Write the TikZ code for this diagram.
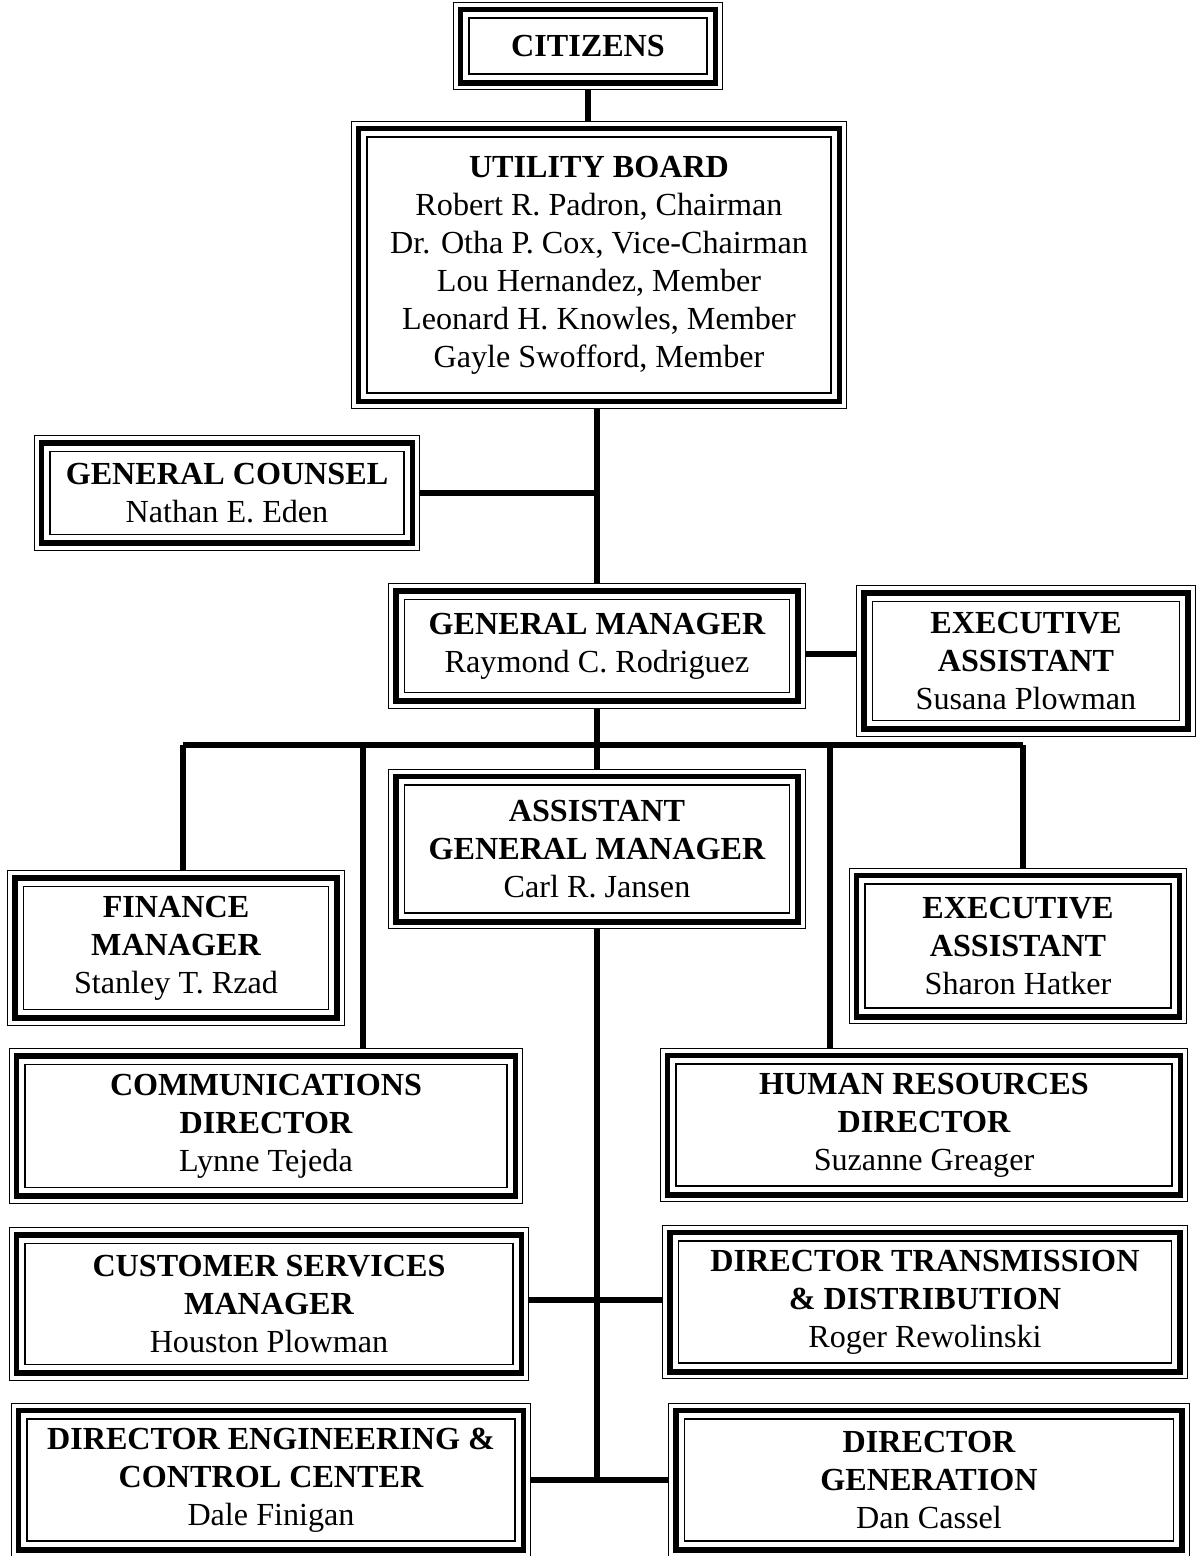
\documentclass[tikz,border=0pt]{standalone}
\usepackage{fontspec}
\setmainfont{Liberation Serif}
\begin{document}
\begin{tikzpicture}[x=0.02cm, y=-0.02cm,
    org/.style={draw, line width=0.9pt, align=center, inner sep=0pt,
        font=\fontsize{18.3}{21.6}\selectfont},
    link/.style={line width=3pt},
    rimthick/.style={line width=3.2pt},
    rimthin/.style={line width=0.7pt}]
    \useasboundingbox (0,0) rectangle (1197,1556);

    \node[org, minimum width=4.76cm, minimum height=1.12cm] (cit) at (588,46) {\bfseries CITIZENS};
    \node[org, minimum width=9.28cm, minimum height=5.12cm] (board) at (599,265) {\bfseries UTILITY BOARD\\
        Robert R. Padron, Chairman\\Dr. Otha P. Cox, Vice-Chairman\\Lou Hernandez, Member\\
        Leonard H. Knowles, Member\\Gayle Swofford, Member};
    \node[org, minimum width=7.08cm, minimum height=1.66cm] (gc) at (227,493) {\bfseries GENERAL COUNSEL\\Nathan E. Eden};
    \node[org, minimum width=7.70cm, minimum height=1.86cm] (gm) at (597,646) {\bfseries GENERAL MANAGER\\Raymond C. Rodriguez};
    \node[org, minimum width=6.14cm, minimum height=2.38cm] (ea1) at (1026,661) {\bfseries EXECUTIVE\\\bfseries ASSISTANT\\Susana Plowman};
    \node[org, minimum width=7.70cm, minimum height=2.56cm] (agm) at (597,849) {\bfseries ASSISTANT\\\bfseries GENERAL MANAGER\\Carl R. Jansen};
    \node[org, minimum width=6.10cm, minimum height=2.46cm] (fin) at (176,948) {\bfseries FINANCE\\\bfseries MANAGER\\Stanley T. Rzad};
    \node[org, minimum width=6.12cm, minimum height=2.48cm] (ea2) at (1018,946) {\bfseries EXECUTIVE\\\bfseries ASSISTANT\\Sharon Hatker};
    \node[org, minimum width=9.64cm, minimum height=2.46cm] (comm) at (266,1126) {\bfseries COMMUNICATIONS\\\bfseries DIRECTOR\\Lynne Tejeda};
    \node[org, minimum width=9.92cm, minimum height=2.44cm] (hr) at (924,1125) {\bfseries HUMAN RESOURCES\\\bfseries DIRECTOR\\Suzanne Greager};
    \node[org, minimum width=9.76cm, minimum height=2.42cm] (cs) at (269,1304) {\bfseries CUSTOMER SERVICES\\\bfseries MANAGER\\Houston Plowman};
    \node[org, minimum width=9.86cm, minimum height=2.44cm] (dtd) at (925,1302) {\bfseries DIRECTOR TRANSMISSION\\\bfseries \& DISTRIBUTION\\Roger Rewolinski};
    \node[org, minimum width=9.76cm, minimum height=2.44cm] (deng) at (271,1480) {\bfseries DIRECTOR ENGINEERING \&\\\bfseries CONTROL CENTER\\Dale Finigan};
    \node[org, minimum width=9.78cm, minimum height=2.44cm] (dgen) at (929,1480) {\bfseries DIRECTOR\\\bfseries GENERATION\\Dan Cassel};

    % double rims round every box
    \foreach \n in {cit,board,gc,gm,ea1,agm,fin,ea2,comm,hr,cs,dtd,deng,dgen} {
        \draw[rimthick] ([shift={(-4.5pt,4.5pt)}]\n.north west) rectangle ([shift={(4.5pt,-4.5pt)}]\n.south east);
        \draw[rimthin] ([shift={(-8.5pt,8.5pt)}]\n.north west) rectangle ([shift={(8.5pt,-8.5pt)}]\n.south east);
    }

    \coordinate (bus) at (597,745);
    \coordinate (busl) at (183,745);
    \coordinate (busr) at (1023,745);
    \coordinate (cdrop) at (363,745);
    \coordinate (hdrop) at (830,745);
    \coordinate (eaj) at (0,654);
    \coordinate (csj) at (0,1300);

    \draw[link, shorten <=8.5pt, shorten >=8.5pt] (cit) -- (cit |- board.north);
    \draw[link, shorten <=8.5pt, shorten >=8.5pt] (gm |- board.south) -- (gm);
    \draw[link, shorten <=8.5pt] (gc.east) -- (gc.east -| gm.north);
    \draw[link, shorten <=8.5pt, shorten >=8.5pt] (gm.east |- eaj) -- (ea1.west |- eaj);

    \draw[link, shorten <=8.5pt] (gm.south) -- (bus);
    \draw[link] (busl) -- (busr);
    \draw[link, shorten >=8.5pt] (bus) -- (agm.north);
    \draw[link, shorten >=8.5pt] (busl) -- (busl |- fin.north);
    \draw[link, shorten >=8.5pt] (cdrop) -- (cdrop |- comm.north);
    \draw[link, shorten >=8.5pt] (hdrop) -- (hdrop |- hr.north);
    \draw[link, shorten >=8.5pt] (busr) -- (busr |- ea2.north);

    \draw[link, shorten <=8.5pt] (agm.south) -- (agm.south |- deng.east);
    \draw[link, shorten <=8.5pt, shorten >=8.5pt] (cs.east |- csj) -- (dtd.west |- csj);
    \draw[link, shorten <=8.5pt, shorten >=8.5pt] (deng.east) -- (dgen.west);
\end{tikzpicture}
\end{document}
